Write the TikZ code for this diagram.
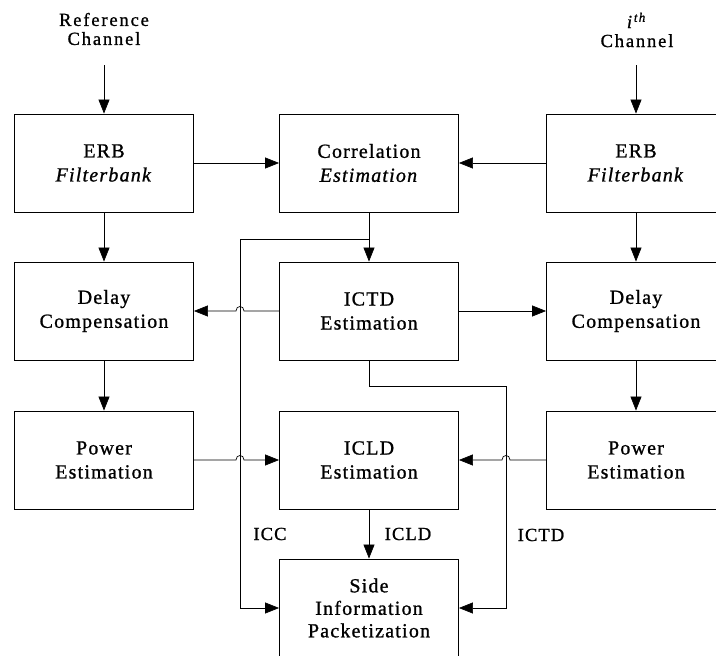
\documentclass[tikz,border=0pt]{standalone}
\usepackage{fontspec}
\setmainfont{Liberation Serif}[LetterSpace=6,FakeBold=1]
\usetikzlibrary{arrows.meta}
\begin{document}
\begin{tikzpicture}[x=1pt,y=-1pt,
  blk/.style={draw,line width=0.9pt,minimum width=179pt,minimum height=98pt,align=center,inner sep=0pt,
    font=\fontsize{20}{24}\selectfont},
  lbl/.style={align=center,inner sep=0pt,font=\fontsize{18.5}{19}\selectfont\addfontfeatures{LetterSpace=10}},
  sig/.style={font=\fontsize{18.5}{19}\selectfont,inner sep=0pt},
  arr/.style={line width=0.7pt,-{Triangle[length=14pt,width=11pt]}},
  ln/.style={line width=0.7pt}]
\useasboundingbox (0,0) rectangle (716,656);
\clip (0,0) rectangle (716,656);
% blocks
\node[blk] (erbL) at (104,163) {ERB\\\textit{Filterbank}};
\node[blk] (corr) at (369,163) {Correlation\\\textit{Estimation}};
\node[blk] (erbR) at (636,163) {ERB\\\textit{Filterbank}};
\node[blk] (delL) at (104,311) {Delay\\Compensation};
\node[blk] (ictd) at (369,311) {ICTD\\Estimation};
\node[blk] (delR) at (636,311) {Delay\\Compensation};
\node[blk] (powL) at (104,460) {Power\\Estimation};
\node[blk] (icld) at (369,460) {ICLD\\Estimation};
\node[blk] (powR) at (636,460) {Power\\Estimation};
\node[blk,font=\fontsize{20}{22.5}\selectfont] (side) at (369,608) {Side\\Information\\Packetization};
% inputs
\node[lbl] (refL) at (104,29) {Reference\\Channel};
\node[lbl] (refR) at (637,30) {\textit{i}\textsuperscript{\textit{th}}\\Channel};
\coordinate (inL) at (104,65);
\coordinate (inR) at (636,65);
\draw[arr] (inL) -- (erbL.north);
\draw[arr] (inR) -- (erbR.north);
% row 1
\draw[arr] (erbL.east) -- (corr.west);
\draw[arr] (erbR.west) -- (corr.east);
\draw[arr] (corr.south) -- (ictd.north);
\draw[arr] (erbL.south) -- (delL.north);
\draw[arr] (erbR.south) -- (delR.north);
\draw[arr] (delL.south) -- (powL.north);
\draw[arr] (delR.south) -- (powR.north);
% ICC path
\coordinate (iccb) at (369,239);
\coordinate (iccx) at (240,239);
\draw[arr] (iccb) -- (iccx) |- (side.west);
% ICTD to delays
\coordinate (j1a) at (244,311);
\coordinate (j1b) at (236,311);
\draw[arr] (ictd.west) -- (j1a) .. controls +(0,-6) and +(0,-6) .. (j1b) -- (delL.east);
\draw[arr] (ictd.east) -- (delR.west);
% ICTD to side info
\coordinate (tdx) at (506,386);
\draw[arr] (ictd.south) |- (tdx) |- (side.east);
% power to ICLD
\coordinate (j2a) at (236,460);
\coordinate (j2b) at (244,460);
\draw[arr] (powL.east) -- (j2a) .. controls +(0,-6) and +(0,-6) .. (j2b) -- (icld.west);
\coordinate (j3a) at (510,460);
\coordinate (j3b) at (502,460);
\draw[arr] (powR.west) -- (j3a) .. controls +(0,-6) and +(0,-6) .. (j3b) -- (icld.east);
% ICLD to side
\draw[arr] (icld.south) -- (side.north);
% labels
\node[sig] (lICC) at (270,534) {ICC};
\node[sig] (lICLD) at (408,534) {ICLD};
\node[sig] (lICTD) at (541,535) {ICTD};
\end{tikzpicture}
\end{document}
